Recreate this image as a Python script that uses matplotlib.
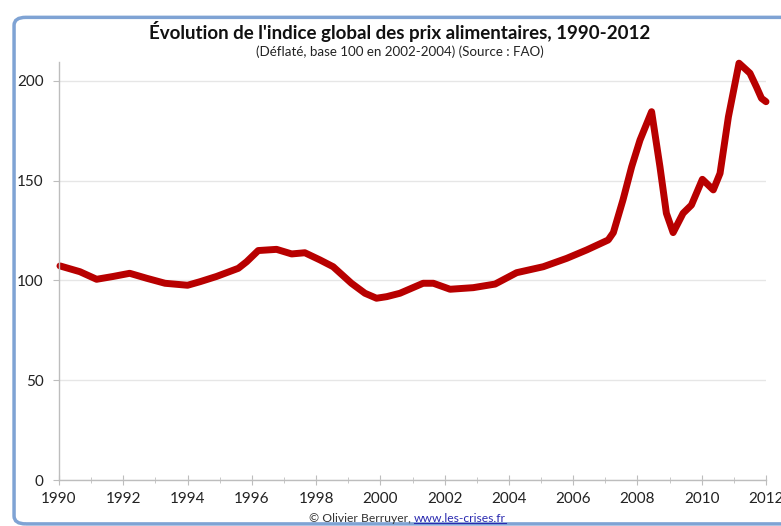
import matplotlib.pyplot as plt
from matplotlib.patches import FancyBboxPatch
from matplotlib.ticker import MultipleLocator

# FAO food price index, deflated
years = [1990.03, 1990.65, 1991.17, 1991.68, 1992.2, 1992.73, 1993.3, 1994.0,
         1994.39, 1994.9, 1995.58, 1995.84, 1996.2, 1996.77, 1997.24, 1997.65,
         1998.12, 1998.53, 1999.1, 1999.52, 1999.88, 2000.2, 2000.61, 2001.33,
         2001.65, 2002.17, 2002.89, 2003.57, 2004.24, 2005.07, 2005.8, 2006.42,
         2007.09, 2007.25, 2007.55, 2007.82, 2008.08, 2008.44, 2008.7, 2008.9,
         2009.11, 2009.42, 2009.68, 2010.02, 2010.36, 2010.57, 2010.83,
         2011.16, 2011.5, 2011.7, 2011.86, 2012.0]
index = [107.3, 104.4, 100.6, 102.0, 103.6, 101.1, 98.6, 97.6,
         99.4, 102.0, 106.1, 109.4, 115.0, 115.6, 113.3, 113.9,
         110.3, 106.9, 98.6, 93.6, 91.1, 91.9, 93.6, 98.6,
         98.6, 95.6, 96.4, 98.2, 103.9, 106.9, 111.1, 115.3,
         120.3, 124.0, 140.4, 157.0, 170.4, 184.6, 157.0, 133.7,
         124.0, 133.7, 137.8, 150.7, 145.4, 153.7, 182.0,
         208.9, 203.9, 197.1, 191.3, 189.6]

yticks = [0, 50, 100, 150, 200]
xticks = list(range(1990, 2013, 2))

title = "Évolution de l'indice global des prix alimentaires, 1990-2012"
subtitle = "(Déflaté, base 100 en 2002-2004) (Source : FAO)"

plt.rcParams['font.family'] = ['Lato', 'DejaVu Sans']

fig = plt.figure(figsize=(7.81, 5.26), dpi=100)
fig.patch.set_facecolor('white')

# rounded frame around the chart
frame = FancyBboxPatch((0.018, 0.004), 1.2, 0.963, transform=fig.transFigure,
                       boxstyle='round,pad=0,rounding_size=0.015',
                       facecolor='none', edgecolor='#7fa3d4', linewidth=2.5,
                       zorder=0)
fig.patches.append(frame)

ax = fig.add_axes([59 / 781, 1 - 480 / 526, 707 / 781, 418 / 526])
ax.patch.set_alpha(0)
ax.plot(years, index, color='#b80000', linewidth=5,
        solid_capstyle='round', solid_joinstyle='round', clip_on=False)

ax.set_xlim(1990, 2012)
ax.set_ylim(0, 209.5)
ax.set_yticks(yticks)
ax.set_xticks(xticks)
ax.xaxis.set_minor_locator(MultipleLocator(1))
ax.grid(axis='y', color='#e6e6e6', linewidth=1)
ax.set_axisbelow(True)

for side in ['top', 'right']:
    ax.spines[side].set_visible(False)
for side in ['left', 'bottom']:
    ax.spines[side].set_color('#bdbdbd')
    ax.spines[side].set_linewidth(1)

ax.tick_params(axis='x', which='major', direction='inout', length=7,
               color='#bdbdbd', labelsize=11, labelcolor='#222222', pad=5)
ax.tick_params(axis='x', which='minor', direction='inout', length=5,
               color='#bdbdbd')
ax.tick_params(axis='y', direction='out', length=4, color='#bdbdbd',
               labelsize=11, labelcolor='#222222', pad=7)

fig.text(400 / 781, 1 - 32 / 526, title, ha='center', va='center',
         fontsize=13.5, fontweight='bold', color='#111111')
fig.text(400 / 781, 1 - 52 / 526, subtitle, ha='center', va='center',
         fontsize=9.6, color='#222222')

fig.text(414 / 781, 1 - 518 / 526, '© Olivier Berruyer, ', ha='right',
         va='center', fontsize=8.7, color='#333333')
link = fig.text(414 / 781, 1 - 518 / 526, 'www.les-crises.fr', ha='left',
                va='center', fontsize=8.7, color='#2a2ab0')
fig.canvas.draw()
bb = link.get_window_extent()
fig.add_artist(plt.Line2D([bb.x0 / 781, bb.x1 / 781],
                          [(bb.y0 + 1) / 526, (bb.y0 + 1) / 526],
                          color='#2a2ab0', linewidth=0.8))

fig.savefig('out.png', dpi=100)
